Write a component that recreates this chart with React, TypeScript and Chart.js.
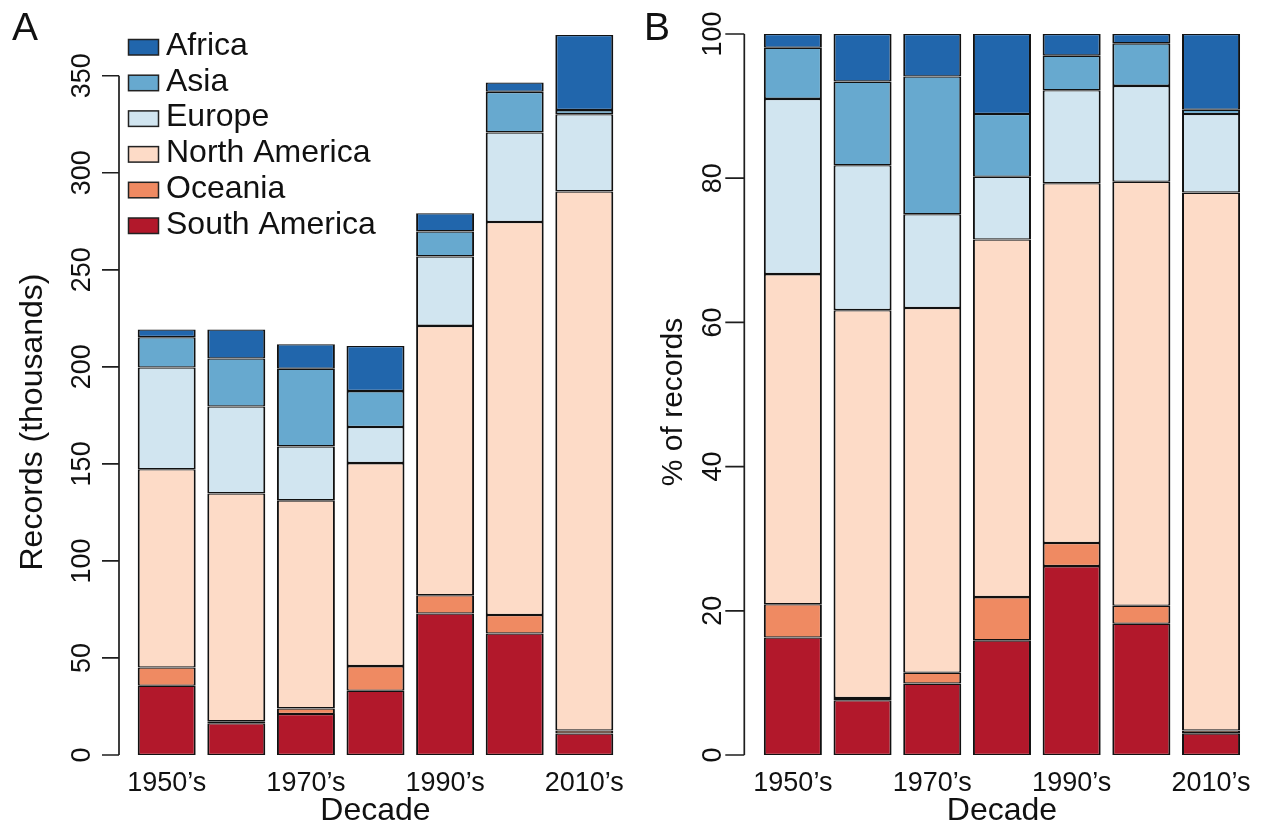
import React, { useEffect, useRef } from "react";
import { Chart, registerables } from "chart.js";

Chart.register(...registerables);

const FONT = '"Liberation Sans", Arial, Helvetica, sans-serif';

// Categories
const decades = ["1950’s", "1960’s", "1970’s", "1980’s", "1990’s", "2000’s", "2010’s"];
// Stack order (bottom -> top)
const regions = ["South America", "Oceania", "North America", "Europe", "Asia", "Africa"];
const regionColors = ["#B2182B", "#EF8A62", "#FDDBC7", "#D1E5F0", "#67A9CF", "#2166AC"];

// Panel A: records (thousands)
const southAmericaA = [35.7, 16.4, 21.1, 33.1, 72.9, 62.6, 11.1];
const oceaniaA = [9.4, 1.0, 2.9, 12.7, 9.4, 9.5, 1.5];
const northAmericaA = [102.1, 117.4, 107.2, 104.6, 138.8, 202.5, 277.8];
const europeA = [52.5, 44.8, 27.8, 18.6, 35.8, 46.2, 39.8];
const asiaA = [15.6, 24.7, 40.0, 18.5, 12.9, 20.9, 2.1];
const africaA = [4.0, 15.0, 12.7, 23.3, 9.4, 4.8, 38.7];

// Panel B: % of records
const southAmericaB = [16.3, 7.6, 9.9, 15.9, 26.2, 18.2, 3.0];
const oceaniaB = [4.6, 0.3, 1.5, 6.0, 3.2, 2.5, 0.4];
const northAmericaB = [45.8, 53.8, 50.6, 49.6, 49.9, 58.8, 74.6];
const europeB = [24.3, 20.1, 13.0, 8.7, 12.9, 13.3, 10.9];
const asiaB = [7.1, 11.6, 19.1, 8.7, 4.8, 5.9, 0.6];
const africaB = [1.9, 6.6, 5.9, 11.1, 3.0, 1.3, 10.5];

// Axis ticks
const ticksA = [0, 50, 100, 150, 200, 250, 300, 350];
const ticksB = [0, 20, 40, 60, 80, 100];
const yMaxA = 371.5;
const yMaxB = 100;

const rStylePlugin = {
  id: "rStyle",
  afterDraw(chart: any, _args: any, opts: any) {
    const ctx = chart.ctx as CanvasRenderingContext2D;
    const y = chart.scales.y;
    const ticks: number[] = opts.ticks;
    const x0: number = opts.axisX;
    ctx.save();
    // axis line + ticks
    ctx.strokeStyle = "#1e1e1e";
    ctx.lineWidth = 1.7;
    ctx.beginPath();
    const pTop = y.getPixelForValue(ticks[ticks.length - 1]);
    const pBot = y.getPixelForValue(ticks[0]);
    ctx.moveTo(x0, pBot);
    ctx.lineTo(x0, pTop);
    ticks.forEach((t) => {
      const p = y.getPixelForValue(t);
      ctx.moveTo(x0, p);
      ctx.lineTo(x0 - opts.tickLen, p);
    });
    ctx.stroke();
    // tick labels (rotated)
    ctx.fillStyle = "#111";
    ctx.font = `27px ${FONT}`;
    ctx.textAlign = "center";
    ctx.textBaseline = "middle";
    ticks.forEach((t) => {
      const p = y.getPixelForValue(t);
      ctx.save();
      ctx.translate(x0 - opts.labelOffset, p);
      ctx.rotate(-Math.PI / 2);
      ctx.fillText(String(t), 0, 0);
      ctx.restore();
    });
    // axis title
    ctx.save();
    ctx.font = `${opts.titleSize}px ${FONT}`;
    ctx.translate(opts.titleX, opts.titleY);
    ctx.rotate(-Math.PI / 2);
    ctx.fillText(opts.title, 0, 0);
    ctx.restore();
    // panel letter
    ctx.font = `39px ${FONT}`;
    ctx.textAlign = "left";
    ctx.textBaseline = "alphabetic";
    ctx.fillText(opts.letter, opts.letterX, 40);
    // legend
    if (opts.legend) {
      const ds = chart.data.datasets.slice().reverse();
      ctx.font = `32px ${FONT}`;
      ds.forEach((d: any, i: number) => {
        const base = 55 + 35.7 * i;
        ctx.fillStyle = d.backgroundColor;
        ctx.fillRect(128.5, base - 15.5, 30, 15.5);
        ctx.strokeStyle = "#222";
        ctx.lineWidth = 1.5;
        ctx.strokeRect(128.5, base - 15.5, 30, 15.5);
        ctx.fillStyle = "#111";
        ctx.fillText(d.label, 166, base);
      });
    }
    ctx.restore();
  },
};

function makeConfig(series: number[][], yMax: number, padLeft: number, padRight: number, pluginOpts: any): any {
  return {
    type: "bar",
    data: {
      labels: decades,
      datasets: regions.map((r, i) => ({
        label: r,
        data: series[i],
        backgroundColor: regionColors[i],
        borderColor: "#111",
        borderWidth: { left: 2, right: 2, top: 1.3, bottom: 1.3 },
        borderSkipped: false,
        barPercentage: 0.833,
        categoryPercentage: 1,
      })),
    },
    options: {
      responsive: false,
      animation: false,
      layout: { padding: { left: padLeft, right: padRight, top: 34, bottom: 0 } },
      plugins: {
        legend: { display: false },
        tooltip: { enabled: false },
        rStyle: pluginOpts,
      },
      scales: {
        x: {
          stacked: true,
          grid: { display: false, drawTicks: false },
          border: { display: false },
          ticks: {
            autoSkip: false,
            maxRotation: 0,
            minRotation: 0,
            padding: 12,
            color: "#111",
            font: { family: FONT, size: 27 },
            callback: (_v: any, i: number) => (i % 2 === 0 ? decades[i] : ""),
          },
          title: {
            display: true,
            text: "Decade",
            color: "#111",
            font: { family: FONT, size: 32, lineHeight: 1.1 },
            padding: 0,
          },
          afterFit: (s: any) => {
            s.height = 74;
          },
        },
        y: { stacked: true, display: false, min: 0, max: yMax },
      },
    },
    plugins: [rStylePlugin],
  };
}

export default function App() {
  const refA = useRef<HTMLCanvasElement>(null);
  const refB = useRef<HTMLCanvasElement>(null);

  useEffect(() => {
    const chartA = new Chart(
      refA.current as HTMLCanvasElement,
      makeConfig(
        [southAmericaA, oceaniaA, northAmericaA, europeA, asiaA, africaA],
        yMaxA,
        131.9,
        18.9,
        {
          ticks: ticksA,
          axisX: 119,
          tickLen: 17,
          labelOffset: 36.5,
          title: "Records (thousands)",
          titleSize: 32,
          titleX: 33,
          titleY: 422,
          letter: "A",
          letterX: 12,
          legend: true,
        }
      )
    );
    const chartB = new Chart(
      refB.current as HTMLCanvasElement,
      makeConfig(
        [southAmericaB, oceaniaB, northAmericaB, europeB, asiaB, africaB],
        yMaxB,
        120,
        30.1,
        {
          ticks: ticksB,
          axisX: 106.3,
          tickLen: 19,
          labelOffset: 30.5,
          title: "% of records",
          titleSize: 30,
          titleX: 35.5,
          titleY: 402,
          letter: "B",
          letterX: 6,
          legend: false,
        }
      )
    );
    return () => {
      chartA.destroy();
      chartB.destroy();
    };
  }, []);

  return (
    <div style={{ position: "fixed", left: 0, top: 0, width: 1276, height: 829, background: "#fff" }}>
      <canvas ref={refA} width={638} height={829} style={{ position: "absolute", left: 0, top: 0, width: 638, height: 829 }} />
      <canvas ref={refB} width={638} height={829} style={{ position: "absolute", left: 638, top: 0, width: 638, height: 829 }} />
    </div>
  );
}
